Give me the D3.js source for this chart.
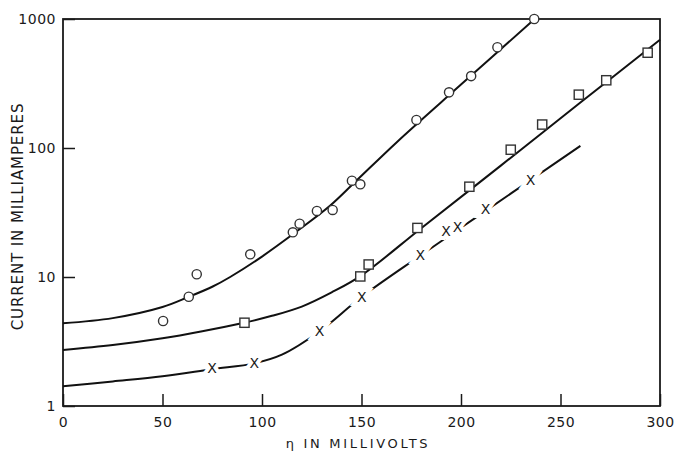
<!DOCTYPE html>
<html>
<head>
<meta charset="utf-8">
<script src="https://cdn.jsdelivr.net/npm/d3@7"></script>
<style>
  body { margin: 0; background: #fff; }
  svg text { font-family: "DejaVu Sans", sans-serif; fill: #1a1a1a; }
  .tick line { stroke: #1a1a1a; stroke-width: 1.5; }
  .tick text { font-size: 14px; letter-spacing: 0.5px; }
</style>
</head>
<body>
<div id="container"></div>
<script>
"use strict";

const circleEta = [50.3, 63.2, 67.2, 94.1, 115.5, 118.9, 127.6, 135.5, 145.2, 149.4, 177.6, 194, 205.1, 218.3, 236.8];
const circleI = [4.56, 7.03, 10.5, 15.0, 22.2, 25.9, 32.5, 33.1, 55.8, 52.3, 165, 270, 361, 604, 1000];

const squareEta = [91.2, 149.4, 153.6, 178.1, 204.2, 225, 240.8, 259.2, 273, 293.8];
const squareI = [4.42, 10.1, 12.5, 24, 50.1, 97, 152, 259, 335, 548];

const crossEta = [74.9, 96.1, 128.9, 150.2, 179.6, 192.5, 198.3, 212.3, 234.9];
const crossI = [1.96, 2.14, 3.81, 7.03, 14.8, 22.7, 24.5, 33.5, 56.5];

// drawn curves
const circleCurveEta = [0, 25, 50, 63, 75, 84, 100, 117, 134, 147, 168, 200, 237];
const circleCurveI = [4.38, 4.8, 5.85, 7.0, 8.4, 10.0, 14.4, 22.3, 35.5, 55, 112, 310, 1000];

const squareCurveEta = [0, 25, 50, 70, 91, 105, 120, 135, 150, 180, 220, 260, 300];
const squareCurveI = [2.72, 2.97, 3.35, 3.8, 4.42, 5.0, 5.9, 7.6, 10.3, 23.9, 73, 225, 690];

const crossCurveEta = [0, 25, 50, 75, 96, 110, 129, 150, 180, 212, 235, 260];
const crossCurveI = [1.42, 1.55, 1.70, 1.93, 2.14, 2.5, 3.8, 7.0, 14.8, 32.3, 56.5, 104];

const xTicks = [0, 50, 100, 150, 200, 250, 300];
const yTicks = [1, 10, 100, 1000];

const W = 677, H = 452;
const margin = {top: 19, right: 17, bottom: 46, left: 63};

const svg = d3.select("#container").append("svg")
    .attr("width", W)
    .attr("height", H);

const x = d3.scaleLinear().domain([0, 300]).range([margin.left, W - margin.right]);
const y = d3.scaleLog().domain([1, 1000]).range([H - margin.bottom, margin.top]);

const zip = (a, b) => a.map((v, i) => ({eta: v, i: b[i]}));

// axes with inward ticks
svg.append("g")
    .attr("transform", `translate(0, ${H - margin.bottom})`)
    .call(d3.axisBottom(x).tickValues(xTicks).tickSizeInner(-12).tickSizeOuter(0).tickPadding(11))
    .call(g => g.select(".domain").remove());

svg.append("g")
    .attr("transform", `translate(${margin.left}, 0)`)
    .call(d3.axisLeft(y).tickValues(yTicks).tickFormat(d3.format("d")).tickSizeInner(-12).tickSizeOuter(0).tickPadding(7))
    .call(g => g.select(".domain").remove());

// frame
svg.append("rect")
    .attr("x", x(0))
    .attr("y", y(1000))
    .attr("width", x(300) - x(0))
    .attr("height", y(1) - y(1000))
    .attr("fill", "none")
    .attr("stroke", "#1a1a1a")
    .attr("stroke-width", 1.8);

// curves
const line = d3.line()
    .x(d => x(d.eta))
    .y(d => y(d.i))
    .curve(d3.curveCatmullRom.alpha(0.5));

[[circleCurveEta, circleCurveI], [squareCurveEta, squareCurveI], [crossCurveEta, crossCurveI]]
    .forEach(([e, c]) => {
        svg.append("path")
            .datum(zip(e, c))
            .attr("d", line)
            .attr("fill", "none")
            .attr("stroke", "#111")
            .attr("stroke-width", 2);
    });

// markers
svg.append("g").selectAll("circle")
    .data(zip(circleEta, circleI))
    .enter().append("circle")
        .attr("cx", d => x(d.eta))
        .attr("cy", d => y(d.i))
        .attr("r", 4.6)
        .attr("fill", "#fff")
        .attr("stroke", "#333")
        .attr("stroke-width", 1.4);

svg.append("g").selectAll("rect")
    .data(zip(squareEta, squareI))
    .enter().append("rect")
        .attr("x", d => x(d.eta) - 4.6)
        .attr("y", d => y(d.i) - 4.6)
        .attr("width", 9.2)
        .attr("height", 9.2)
        .attr("fill", "#fff")
        .attr("stroke", "#333")
        .attr("stroke-width", 1.4);

// X markers: white halo first to break the line, then the glyphs
["halo", "glyph"].forEach(kind => {
    svg.append("g").selectAll("text")
        .data(zip(crossEta, crossI))
        .enter().append("text")
            .attr("x", d => x(d.eta))
            .attr("y", d => y(d.i))
            .attr("dy", "0.36em")
            .attr("text-anchor", "middle")
            .style("font-size", "14px")
            .style("fill", kind === "halo" ? "#fff" : "#1a1a1a")
            .style("stroke", kind === "halo" ? "#fff" : "none")
            .style("stroke-width", 8)
            .text("X");
});

// axis titles
svg.append("text")
    .attr("x", 358)
    .attr("y", 448)
    .attr("text-anchor", "middle")
    .style("font-size", "13px")
    .style("letter-spacing", "2.7px")
    .text("\u03b7 IN MILLIVOLTS");

svg.append("text")
    .attr("transform", `translate(23, ${(y(1) + y(1000)) / 2 + 4}) rotate(-90)`)
    .attr("text-anchor", "middle")
    .style("font-size", "15px")
    .style("letter-spacing", "0.9px")
    .text("CURRENT IN MILLIAMPERES");
</script>
</body>
</html>
